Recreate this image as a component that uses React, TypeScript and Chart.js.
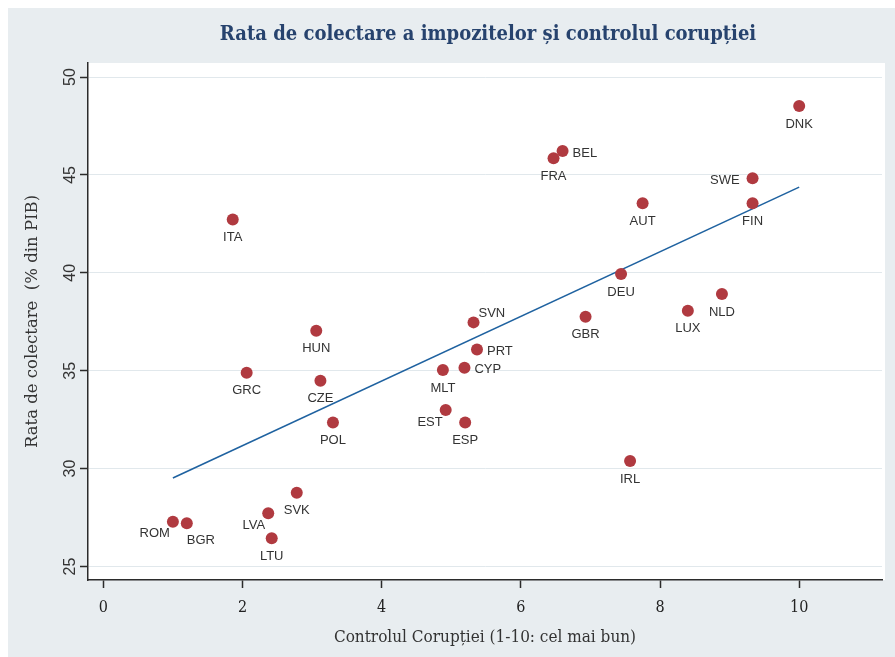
import React, { useEffect, useRef } from 'react';
import { Chart, registerables } from 'chart.js';

Chart.register(...registerables);

// ---- data ----
const countries = ['DNK', 'BEL', 'FRA', 'SWE', 'FIN', 'AUT', 'ITA', 'DEU', 'NLD', 'LUX', 'GBR', 'SVN', 'HUN', 'PRT', 'CYP', 'MLT', 'GRC', 'CZE', 'POL', 'EST', 'ESP', 'IRL', 'SVK', 'LVA', 'LTU', 'ROM', 'BGR'];
const corruptionControl = [10.0, 6.6, 6.47, 9.33, 9.33, 7.75, 1.86, 7.44, 8.89, 8.4, 6.93, 5.32, 3.06, 5.37, 5.19, 4.88, 2.06, 3.12, 3.3, 4.92, 5.2, 7.57, 2.78, 2.37, 2.42, 1.0, 1.2];
const taxRevenue = [48.52, 46.22, 45.85, 44.83, 43.55, 43.55, 42.73, 39.94, 38.92, 38.06, 37.76, 37.47, 37.04, 36.09, 35.15, 35.04, 34.9, 34.49, 32.36, 32.99, 32.36, 30.39, 28.77, 27.72, 26.44, 27.29, 27.21];
// label placement (clock position, as in Stata's mlabvposition)
const labelClock = [6, 3, 6, 9, 6, 6, 6, 6, 6, 6, 6, 1, 6, 3, 3, 6, 6, 6, 6, 7, 6, 6, 6, 7, 6, 7, 5];
const fitLineX = [1.0, 10.0];
const fitLineY = [29.52, 44.38];
const xTickValues = [0, 2, 4, 6, 8, 10];
const yTickValues = [25, 30, 35, 40, 45, 50];

const titleText = 'Rata de colectare a impozitelor și controlul corupției';
const xTitle = 'Controlul Corupției (1-10: cel mai bun)';
const yTitle = 'Rata de colectare  (% din PIB)';

const BG = '#e8edf0';
const GRID = '#e1e8ec';
const AXIS = '#2b2b2b';
const POINT = '#b03a40';
const LINE = '#1f62a0';
const CONDENSED = "'DejaVu Serif Condensed', 'DejaVu Serif', serif";

const clockOffsets: Record<number, { dx: number; dy: number; align: CanvasTextAlign }> = {
  6: { dx: 0, dy: 18, align: 'center' },
  3: { dx: 10, dy: 2, align: 'left' },
  9: { dx: -13, dy: 2, align: 'right' },
  7: { dx: -3, dy: 12, align: 'right' },
  5: { dx: 0, dy: 17, align: 'left' },
  1: { dx: 5, dy: -9, align: 'left' },
};

const bgPlugin = {
  id: 'bgPlugin',
  beforeDraw(chart: any) {
    const { ctx, chartArea: a, width, height } = chart;
    ctx.save();
    ctx.fillStyle = BG;
    ctx.fillRect(0, 0, width, height);
    ctx.fillStyle = '#ffffff';
    ctx.fillRect(a.left, a.top, a.right - a.left + 3, a.bottom - a.top);
    ctx.restore();
  },
};

const labelPlugin = {
  id: 'labelPlugin',
  afterDatasetsDraw(chart: any) {
    const { ctx } = chart;
    const meta = chart.getDatasetMeta(0);
    ctx.save();
    ctx.font = "13px 'Liberation Sans', Arial, sans-serif";
    ctx.fillStyle = '#333333';
    ctx.textBaseline = 'middle';
    meta.data.forEach((pt: any, i: number) => {
      const { x, y } = pt.getProps(['x', 'y'], true);
      const o = clockOffsets[labelClock[i]] || clockOffsets[6];
      ctx.textAlign = o.align;
      ctx.fillText(countries[i], x + o.dx, y + o.dy);
    });
    ctx.restore();
  },
  afterDraw(chart: any) {
    const { ctx, chartArea: a } = chart;
    ctx.save();
    // title
    ctx.font = `bold 20px ${CONDENSED}`;
    ctx.fillStyle = '#27436e';
    ctx.textAlign = 'center';
    ctx.textBaseline = 'middle';
    ctx.fillText(titleText, (a.left + a.right) / 2 + 3, 27);
    // rotated y tick labels
    const ys = chart.scales.y;
    ctx.font = "16px 'Liberation Sans', Arial, sans-serif";
    ctx.fillStyle = '#333333';
    ctx.textAlign = 'center';
    ctx.textBaseline = 'alphabetic';
    yTickValues.forEach((v) => {
      const py = ys.getPixelForValue(v);
      ctx.save();
      ctx.translate(67, py);
      ctx.rotate(-Math.PI / 2);
      ctx.fillText(String(v), 0, 0);
      ctx.restore();
    });
    ctx.restore();
  },
};

export default function App() {
  const ref = useRef<HTMLCanvasElement | null>(null);

  useEffect(() => {
    document.body.style.margin = '8px 0 0 8px';
    document.documentElement.style.overflow = 'hidden';
    const canvas = ref.current;
    if (!canvas) return;
    const chart = new Chart(canvas, {
      type: 'scatter',
      data: {
        datasets: [
          {
            type: 'scatter',
            label: 'countries',
            data: countries.map((c, i) => ({ x: corruptionControl[i], y: taxRevenue[i] })),
            backgroundColor: POINT,
            borderWidth: 0,
            pointRadius: 6,
            pointHoverRadius: 6,
            order: 1,
          },
          {
            type: 'line',
            label: 'fit',
            data: fitLineX.map((x, i) => ({ x, y: fitLineY[i] })),
            borderColor: LINE,
            borderWidth: 1.6,
            pointRadius: 0,
            fill: false,
            order: 2,
          } as any,
        ],
      },
      options: {
        responsive: false,
        animation: false,
        devicePixelRatio: 1,
        layout: { padding: { top: 55, right: 13, left: 0, bottom: 0 } },
        plugins: {
          legend: { display: false },
          tooltip: { enabled: false },
          title: { display: false },
        },
        scales: {
          x: {
            type: 'linear',
            min: -0.22,
            max: 11.19,
            afterFit: (s: any) => {
              s.height = 77;
            },
            afterBuildTicks: (s: any) => {
              s.ticks = xTickValues.map((v) => ({ value: v }));
            },
            ticks: {
              stepSize: 2,
              includeBounds: false,
              color: '#222222',
              padding: 10,
              font: { family: CONDENSED, size: 16 },
              maxRotation: 0,
            },
            grid: {
              drawOnChartArea: false,
              drawTicks: true,
              tickLength: 8,
              tickColor: AXIS,
              tickWidth: 1.5,
            },
            border: { display: true, color: AXIS, width: 1.5 },
            title: {
              display: true,
              text: xTitle,
              color: '#333333',
              font: { family: CONDENSED, size: 17 },
              padding: { top: 0, bottom: 9 },
            },
          },
          y: {
            type: 'linear',
            min: 24.31,
            max: 50.72,
            afterFit: (s: any) => {
              s.width = 80;
            },
            afterBuildTicks: (s: any) => {
              s.ticks = yTickValues.map((v) => ({ value: v }));
            },
            ticks: {
              stepSize: 5,
              includeBounds: false,
              color: 'rgba(0,0,0,0)',
              font: { size: 16 },
            },
            grid: {
              color: GRID,
              lineWidth: 1,
              drawTicks: true,
              tickLength: 8,
              tickColor: AXIS,
              tickWidth: 1.5,
            },
            border: { display: true, color: AXIS, width: 1.5 },
            title: {
              display: true,
              text: yTitle,
              color: '#333333',
              font: { family: "'DejaVu Serif', serif", size: 16.5 },
              padding: { top: 15, bottom: 0 },
            },
          },
        },
      },
      plugins: [bgPlugin, labelPlugin],
    });
    return () => chart.destroy();
  }, []);

  return (
    <canvas
      ref={ref}
      width={887}
      height={649}
      style={{ display: 'block', width: '887px', height: '649px' }}
    />
  );
}
